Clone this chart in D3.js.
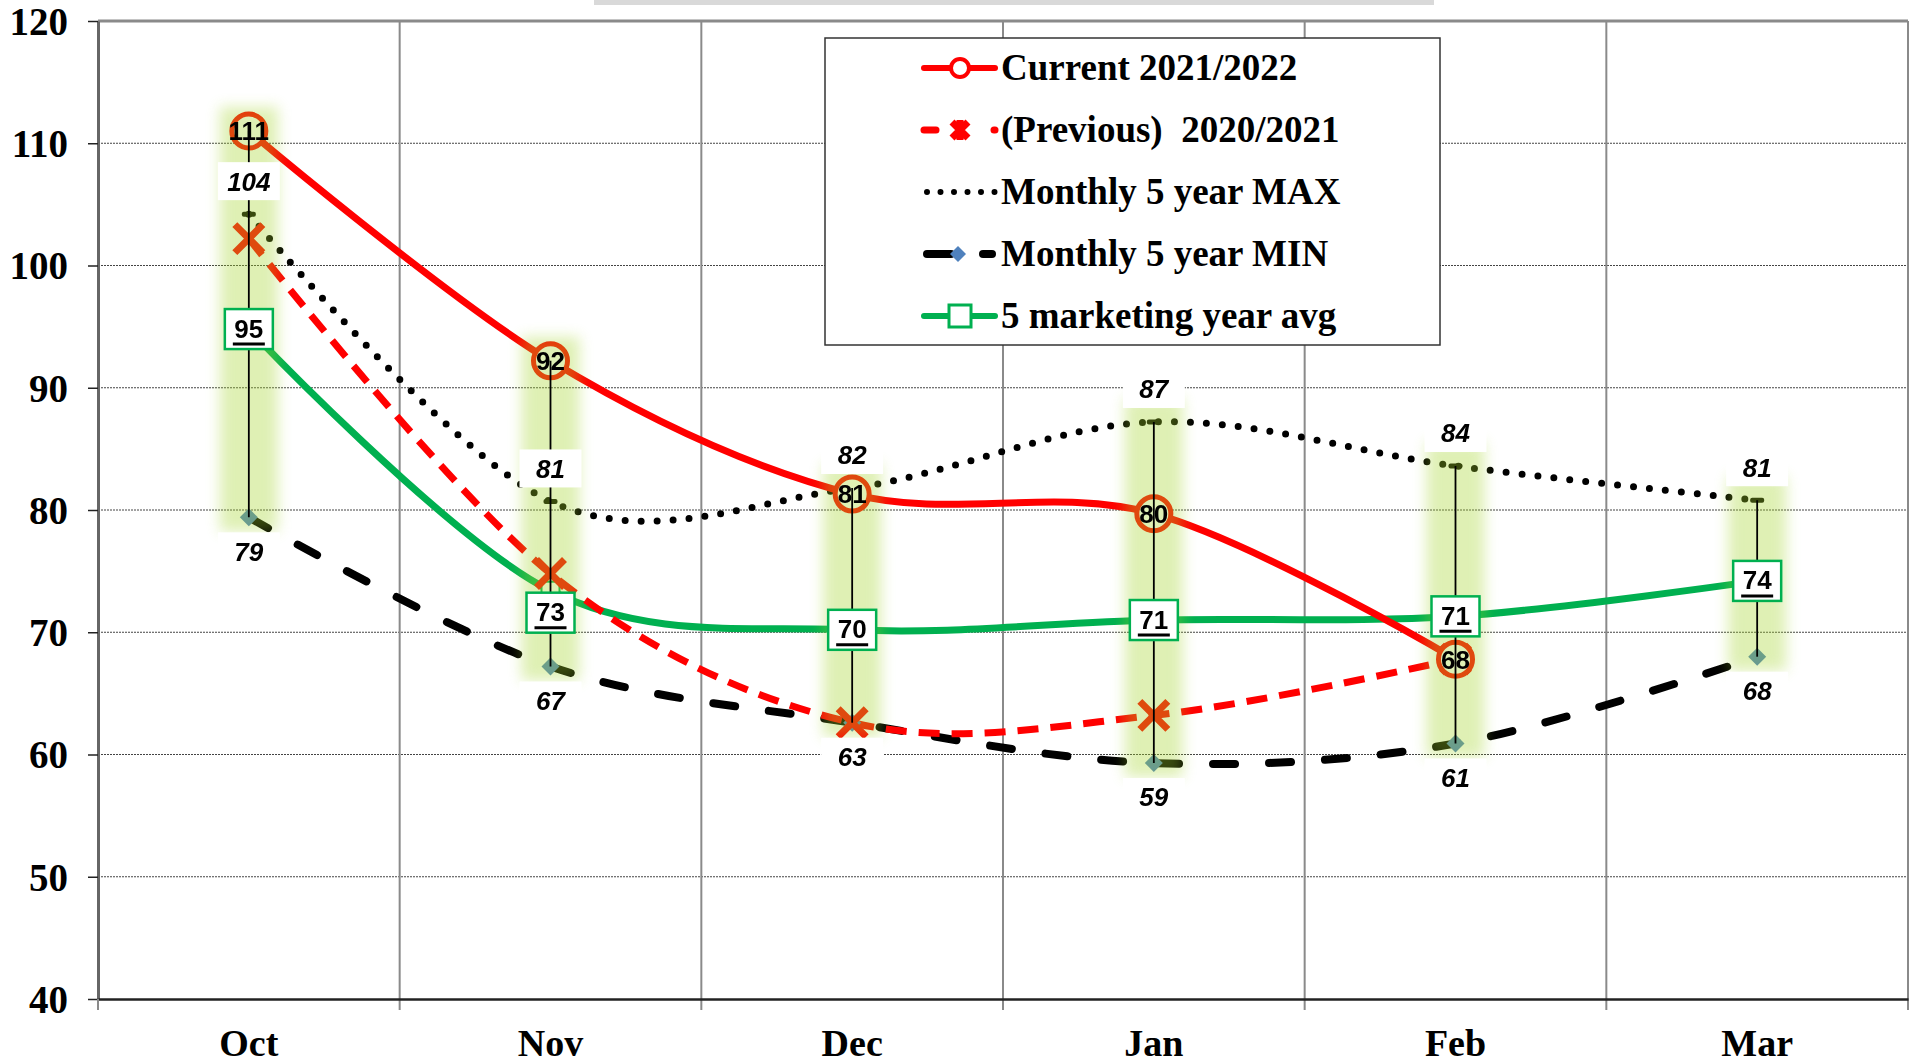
<!DOCTYPE html>
<html>
<head>
<meta charset="utf-8">
<script src="https://cdn.jsdelivr.net/npm/d3@7"></script>
<style>
  body { margin: 0; background: #fff; }
  svg { display: block; }
  .serif { font-family: "Liberation Serif", "Times New Roman", serif; font-weight: bold; }
  .lbl { font-family: "Liberation Sans", Arial, sans-serif; font-weight: bold; font-size: 26px; }
</style>
</head>
<body>
<svg id="chart" width="1914" height="1063"></svg>
<script>
// values
const months = ['Oct', 'Nov', 'Dec', 'Jan', 'Feb', 'Mar'];
const current = [111.0, 92.2, 81.3, 79.7, 67.8, null];
const previous = [102.2, 74.8, 62.6, 63.2, 67.8, null];
const max5 = [104.2, 80.7, 81.8, 87.2, 83.6, 80.8];
const min5 = [79.4, 67.2, 62.6, 59.3, 60.9, 68.0];
const avg5 = [94.8, 73.4, 70.2, 71.0, 71.3, 74.2];
const yTicks = [40, 50, 60, 70, 80, 90, 100, 110, 120];
const legendNames = ['Current 2021/2022', '(Previous)  2020/2021', 'Monthly 5 year MAX', 'Monthly 5 year MIN', '5 marketing year avg'];

const svg = d3.select('#chart');
const plotL = 98, plotR = 1908, plotT = 21, plotB = 999;

const x = d3.scaleBand().domain(months).range([plotL, plotR]);
const cx = m => x(m) + x.bandwidth() / 2;
const y = d3.scaleLinear().domain([40, 120]).range([plotB, plotT]);
const fmt = d3.format('.0f');

const defs = svg.append('defs');
defs.append('filter').attr('id', 'blur')
  .attr('x', '-50%').attr('y', '-20%').attr('width', '200%').attr('height', '140%')
  .append('feGaussianBlur').attr('stdDeviation', 7);

// faint bar on top
svg.append('rect').attr('x', 594).attr('y', 0).attr('width', 840).attr('height', 5).attr('fill', '#d9d9d9');

// horizontal gridlines
svg.append('g').selectAll('line')
  .data(yTicks.filter(v => v > 40 && v < 120))
  .join('line')
  .attr('x1', plotL).attr('x2', plotR)
  .attr('y1', d => y(d)).attr('y2', d => y(d))
  .attr('stroke', '#444').attr('stroke-width', 1).attr('stroke-dasharray', '2 1');

// vertical gridlines on category boundaries + frame
const edges = months.map(m => x(m)).slice(1).concat([plotR]);
svg.append('g').selectAll('line')
  .data(edges)
  .join('line')
  .attr('x1', d => d).attr('x2', d => d)
  .attr('y1', plotT).attr('y2', plotB + 11)
  .attr('stroke', '#8a8a8a').attr('stroke-width', 2);
svg.append('line').attr('x1', plotL).attr('x2', plotR).attr('y1', plotT).attr('y2', plotT)
  .attr('stroke', '#8a8a8a').attr('stroke-width', 3);

// y axis
const yAxis = svg.append('g')
  .attr('transform', `translate(${plotL},0)`)
  .call(d3.axisLeft(y).tickValues(yTicks).tickSize(10).tickSizeOuter(0).tickPadding(20));
yAxis.select('.domain').attr('stroke', '#666').attr('stroke-width', 3);
yAxis.selectAll('.tick line').attr('stroke', '#222').attr('stroke-width', 1.5);
yAxis.selectAll('text').attr('class', 'serif').attr('font-size', 39).attr('fill', '#000').attr('dy', '0.34em');

// x axis
const xAxis = svg.append('g')
  .attr('transform', `translate(0,${plotB})`)
  .call(d3.axisBottom(x).tickSize(0).tickSizeOuter(0).tickPadding(30));
xAxis.select('.domain').attr('stroke', '#222').attr('stroke-width', 2.5);
xAxis.selectAll('text').attr('class', 'serif').attr('font-size', 38).attr('fill', '#000');
svg.append('line').attr('x1', plotL).attr('x2', plotL).attr('y1', plotB).attr('y2', plotB + 11)
  .attr('stroke', '#8a8a8a').attr('stroke-width', 2);

// series lines
const curve = d3.curveCardinal.tension(0);
const line = d3.line()
  .defined(d => d.v != null)
  .x(d => cx(d.m)).y(d => y(d.v))
  .curve(curve);
const pts = arr => months.map((m, i) => ({ m, v: arr[i] }));

const g = svg.append('g');
g.append('path').attr('d', line(pts(min5))).attr('fill', 'none')
  .attr('stroke', '#000').attr('stroke-width', 8).attr('stroke-linecap', 'round').attr('stroke-dasharray', '22 34');
g.append('path').attr('d', line(pts(max5))).attr('fill', 'none')
  .attr('stroke', '#000').attr('stroke-width', 7).attr('stroke-linecap', 'round').attr('stroke-dasharray', '0 16');
g.append('path').attr('d', line(pts(avg5))).attr('fill', 'none')
  .attr('stroke', '#00b050').attr('stroke-width', 7);
g.append('path').attr('d', line(pts(previous))).attr('fill', 'none')
  .attr('stroke', '#ff0000').attr('stroke-width', 7).attr('stroke-dasharray', '21 12');
g.append('path').attr('d', line(pts(current))).attr('fill', 'none')
  .attr('stroke', '#ff0000').attr('stroke-width', 7);

// markers
function diamond(sel, px, py, r, fill) {
  sel.append('path').attr('d', `M${px},${py - r}L${px + r},${py}L${px},${py + r}L${px - r},${py}Z`).attr('fill', fill);
}
function cross(sel, px, py, r, color, star) {
  sel.append('path').attr('d', `M${px - r},${py - r}L${px + r},${py + r}M${px + r},${py - r}L${px - r},${py + r}` +
      (star ? `M${px},${py - r - 2}L${px},${py + r + 2}` : ''))
    .attr('stroke', color).attr('stroke-width', 7).attr('fill', 'none');
}

months.forEach((m, i) => {
  const px = cx(m);
  g.append('rect').attr('x', px - 9).attr('y', y(avg5[i]) - 9).attr('width', 18).attr('height', 18)
    .attr('fill', '#fff').attr('stroke', '#00b050').attr('stroke-width', 2);
  diamond(g, px, y(min5[i]), 9, '#4f81bd');
  g.append('rect').attr('x', px - 7).attr('y', y(max5[i]) - 2.5).attr('width', 14).attr('height', 5)
    .attr('rx', 2).attr('fill', '#000');
  if (previous[i] != null) cross(g, px, y(previous[i]), 14, '#ff0000', false);
  if (current[i] != null) {
    g.append('circle').attr('cx', px).attr('cy', y(current[i])).attr('r', 17)
      .attr('fill', '#fff').attr('stroke', '#ff0000').attr('stroke-width', 5);
  }
});

// glow round the high-low lines
const hiLo = months.map((m, i) => {
  const vals = [current[i], previous[i], max5[i], min5[i], avg5[i]].filter(v => v != null);
  return { m, hi: d3.max(vals), lo: d3.min(vals) };
});
svg.append('g').attr('opacity', 0.35)
  .selectAll('rect')
  .data(hiLo)
  .join('rect')
  .attr('x', d => cx(d.m) - 29).attr('width', 58)
  .attr('y', d => y(d.hi) - 24).attr('height', d => y(d.lo) - y(d.hi) + 38)
  .attr('fill', '#a3d429')
  .attr('filter', 'url(#blur)');

svg.append('g').selectAll('line')
  .data(hiLo)
  .join('line')
  .attr('x1', d => cx(d.m)).attr('x2', d => cx(d.m))
  .attr('y1', d => y(d.hi)).attr('y2', d => y(d.lo))
  .attr('stroke', '#000').attr('stroke-width', 1.8);

// data labels
const lab = svg.append('g').attr('class', 'lbl');
const avgShift = { Nov: 22 };
months.forEach((m, i) => {
  const px = cx(m);
  // max above
  let ty = y(max5[i]) - 33;
  lab.append('rect').attr('x', px - 31).attr('y', ty - 19).attr('width', 62).attr('height', 38).attr('fill', '#fff');
  lab.append('text').attr('x', px).attr('y', ty).attr('dy', '0.36em').attr('text-anchor', 'middle')
    .attr('font-style', 'italic').text(fmt(max5[i]));
  // min below
  ty = y(min5[i]) + 34;
  lab.append('rect').attr('x', px - 31).attr('y', ty - 19).attr('width', 62).attr('height', 38).attr('fill', '#fff');
  lab.append('text').attr('x', px).attr('y', ty).attr('dy', '0.36em').attr('text-anchor', 'middle')
    .attr('font-style', 'italic').text(fmt(min5[i]));
  // avg in a green box
  ty = y(avg5[i]) + (avgShift[m] || 0);
  lab.append('rect').attr('x', px - 24).attr('y', ty - 20).attr('width', 48).attr('height', 40)
    .attr('fill', '#fff').attr('stroke', '#00b050').attr('stroke-width', 2.5);
  lab.append('text').attr('x', px).attr('y', ty).attr('dy', '0.33em').attr('text-anchor', 'middle')
    .text(fmt(avg5[i]));
  lab.append('line').attr('x1', px - 16).attr('x2', px + 16).attr('y1', ty + 15).attr('y2', ty + 15)
    .attr('stroke', '#000').attr('stroke-width', 3);
  // current inside circle
  if (current[i] != null) {
    lab.append('text').attr('x', px).attr('y', y(current[i])).attr('dy', '0.36em').attr('text-anchor', 'middle')
      .text(fmt(current[i]));
  }
});

// legend
const lg = svg.append('g').attr('transform', 'translate(825,38)');
lg.append('rect').attr('width', 615).attr('height', 307).attr('fill', '#fff')
  .attr('stroke', '#333').attr('stroke-width', 1.5);
const rowY = i => 30 + i * 62;
const sx1 = 99, sx2 = 170, smid = 135;
legendNames.forEach((name, i) => {
  const ry = rowY(i);
  const row = lg.append('g');
  const seg = (a, b, color, w) => row.append('line').attr('x1', a).attr('x2', b).attr('y1', ry).attr('y2', ry)
    .attr('stroke', color).attr('stroke-width', w).attr('stroke-linecap', 'round');
  if (i === 0) {
    seg(sx1, sx2, '#ff0000', 6);
    row.append('circle').attr('cx', smid).attr('cy', ry).attr('r', 9).attr('fill', '#fff')
      .attr('stroke', '#ff0000').attr('stroke-width', 4);
  } else if (i === 1) {
    seg(sx1, sx1 + 12, '#ff0000', 7);
    seg(sx2 - 1, sx2, '#ff0000', 7);
    cross(row, smid, ry, 8, '#ff0000', true);
  } else if (i === 2) {
    seg(sx1 + 3, sx2, '#000', 6).attr('stroke-dasharray', '0 13.5');
  } else if (i === 3) {
    seg(sx1 + 3, sx1 + 27, '#000', 8);
    seg(sx2 - 12, sx2 - 3, '#000', 8);
    diamond(row, smid - 2, ry, 8, '#4f81bd');
  } else {
    seg(sx1, sx2, '#00b050', 6);
    row.append('rect').attr('x', smid - 11).attr('y', ry - 11).attr('width', 22).attr('height', 22)
      .attr('fill', '#fff').attr('stroke', '#00b050').attr('stroke-width', 3);
  }
  row.append('text').attr('class', 'serif').attr('x', 176).attr('y', ry).attr('dy', '0.33em')
    .attr('font-size', 37).attr('fill', '#000').style('white-space', 'pre')
    .text(name);
});
</script>
</body>
</html>
